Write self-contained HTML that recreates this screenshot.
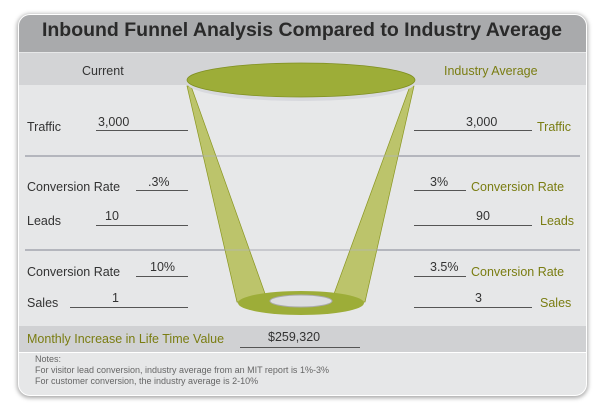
<!DOCTYPE html>
<html><head><style>
body{margin:0;width:604px;height:403px;background:#fff;font-family:"Liberation Sans",sans-serif;overflow:hidden}
.card{position:absolute;left:18px;top:14px;width:567px;height:380px;border-radius:12px;background:#e6e7e8;box-shadow:0 1px 4px 1px rgba(0,0,0,.35);overflow:hidden;border:1px solid #fff}
.t{position:absolute;white-space:nowrap;font-size:12.5px;color:#333}
.g{color:#7a7d12}
.u{position:absolute;height:1px;background:#555}
</style></head><body>
<div class="card">
<div style="position:absolute;left:0;top:0;width:567px;height:37px;background:#a9aaac"></div>
<div style="position:absolute;left:0;top:38px;width:567px;height:32px;background:#d3d4d6"></div>
<div style="position:absolute;left:0;top:311px;width:567px;height:26px;background:#d0d1d3"></div>
<div style="position:absolute;left:0;top:337px;width:567px;height:1px;background:#fff"></div>
</div>
<div class="t" style="left:0;width:604px;text-align:center;top:19px;font-size:19.5px;font-weight:bold;color:#2a2a2a">Inbound Funnel Analysis Compared to Industry Average</div>
<svg width="604" height="403" style="position:absolute;left:0;top:0">
<line x1="25" y1="156" x2="580" y2="156" stroke="#9a9ba0" stroke-width="1.5"/>
<line x1="25" y1="250" x2="580" y2="250" stroke="#9a9ba0" stroke-width="1.5"/>
<path d="M188,82 L414,82 L362,303 L238,303 Z" fill="#e8e9ea" fill-opacity=".6" stroke="#b8b9c0"/>
<polygon points="187,86 191,86 268,302 237,302" fill="#bcc46b" stroke="#8a9620" stroke-width=".7"/>
<polygon points="410,86 414,86 365,302 331,302" fill="#bcc46b" stroke="#8a9620" stroke-width=".7"/>
<line x1="25" y1="156" x2="580" y2="156" stroke="#b0b2c0" stroke-width="1" opacity=".7"/>
<line x1="25" y1="250" x2="580" y2="250" stroke="#b0b2c0" stroke-width="1" opacity=".7"/>
<ellipse cx="301" cy="303" rx="63" ry="12" fill="#9dad38"/>
<ellipse cx="301" cy="301" rx="31" ry="6" fill="#dcdde0" stroke="#aaa"/>
<ellipse cx="301" cy="83" rx="114" ry="18" fill="#d8d9de"/>
<ellipse cx="301" cy="80" rx="114" ry="17" fill="#9dad38" stroke="#7f8f20" stroke-width=".7"/>
</svg>
<div class="t" style="left:82px;top:64px">Current</div>
<div class="t g" style="left:444px;top:64px">Industry Average</div>
<div class="t" style="left:27px;top:120px">Traffic</div>
<div class="t" style="left:98px;top:115px">3,000</div><div class="u" style="left:96px;top:130px;width:92px"></div>
<div class="t" style="left:466px;top:115px">3,000</div><div class="u" style="left:414px;top:130px;width:118px"></div>
<div class="t g" style="left:537px;top:120px">Traffic</div>
<div class="t" style="left:27px;top:180px">Conversion Rate</div>
<div class="t" style="left:148px;top:175px">.3%</div><div class="u" style="left:136px;top:190px;width:52px"></div>
<div class="t" style="left:430px;top:175px">3%</div><div class="u" style="left:414px;top:190px;width:52px"></div>
<div class="t g" style="left:471px;top:180px">Conversion Rate</div>
<div class="t" style="left:27px;top:214px">Leads</div>
<div class="t" style="left:105px;top:209px">10</div><div class="u" style="left:96px;top:225px;width:92px"></div>
<div class="t" style="left:476px;top:209px">90</div><div class="u" style="left:414px;top:225px;width:118px"></div>
<div class="t g" style="left:540px;top:214px">Leads</div>
<div class="t" style="left:27px;top:265px">Conversion Rate</div>
<div class="t" style="left:150px;top:260px">10%</div><div class="u" style="left:136px;top:276px;width:52px"></div>
<div class="t" style="left:430px;top:260px">3.5%</div><div class="u" style="left:414px;top:276px;width:52px"></div>
<div class="t g" style="left:471px;top:265px">Conversion Rate</div>
<div class="t" style="left:27px;top:296px">Sales</div>
<div class="t" style="left:112px;top:291px">1</div><div class="u" style="left:70px;top:307px;width:118px"></div>
<div class="t" style="left:475px;top:291px">3</div><div class="u" style="left:414px;top:307px;width:118px"></div>
<div class="t g" style="left:540px;top:296px">Sales</div>
<div class="t g" style="left:27px;top:332px;font-size:12.5px">Monthly Increase in Life Time Value</div>
<div class="t" style="left:268px;top:330px">$259,320</div><div class="u" style="left:240px;top:347px;width:120px"></div>
<div class="t" style="left:35px;top:354px;font-size:9px;color:#666;line-height:11px">Notes:<br>For visitor lead conversion, industry average from an MIT report is 1%-3%<br>For customer conversion, the industry average is 2-10%</div>
</body></html>
